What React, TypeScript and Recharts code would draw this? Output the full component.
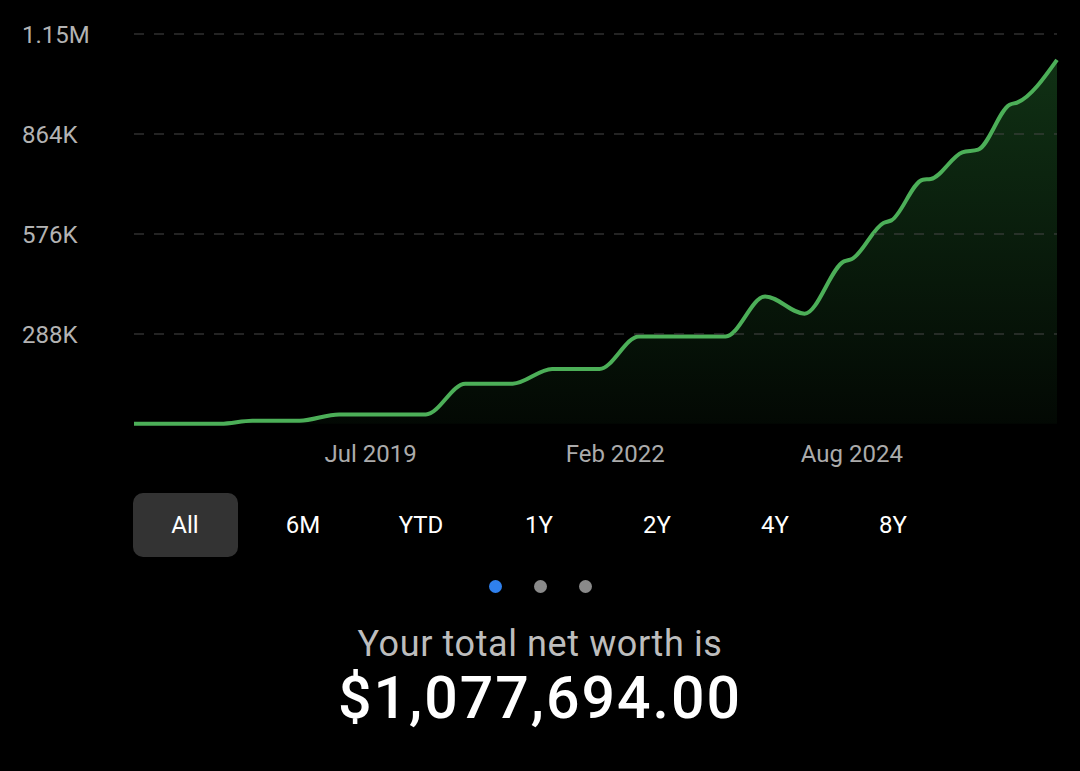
import React from 'react';
import { AreaChart, Area, XAxis, YAxis, ReferenceLine } from 'recharts';

// net worth samples (month, value)
const dates = [
  '2017-01', '2017-12', '2018-04', '2018-10', '2019-03', '2020-02', '2020-07',
  '2021-01', '2021-06', '2021-12', '2022-05', '2023-04', '2023-09', '2024-02',
  '2024-07', '2024-08', '2024-12', '2025-01', '2025-05', '2025-06', '2025-10',
  '2025-12', '2026-04', '2026-05', '2026-10',
];
const netWorth = [
  29700, 29700, 38300, 38300, 56400, 56400, 144900,
  144900, 187200, 187200, 281100, 281100, 396300, 346500,
  497100, 504000, 607700, 615200, 732400, 734400, 811000,
  818800, 948400, 955000, 1077694,
];

const yTicks = [288000, 576000, 864000, 1152000];
const xTickDates = ['2019-07', '2022-02', '2024-08'];
const xTickLabels = ['Jul 2019', 'Feb 2022', 'Aug 2024'];
const ranges = ['All', '6M', 'YTD', '1Y', '2Y', '4Y', '8Y'];
const totalLabel = '$1,077,694.00';

const FONT = 'Roboto, sans-serif';

const monthIndex = (s: string) => {
  const [y, m] = s.split('-').map(Number);
  return (y - 2017) * 12 + (m - 1);
};

const data = dates.map((d, i) => ({ t: monthIndex(d), value: netWorth[i] }));
const xTicks = xTickDates.map(monthIndex);

const formatY = (v: number) =>
  v >= 1000000 ? `${(v / 1000000).toFixed(2)}M` : `${Math.round(v / 1000)}K`;

const YTick = ({ y, payload }: any) => (
  <text x={22} y={y} dy={8.5} fill="#b3b3b3" fontSize={24} fontFamily={FONT}>
    {formatY(payload.value)}
  </text>
);

export default function App() {
  return (
    <div
      style={{
        position: 'absolute',
        left: 0,
        top: 0,
        width: 1080,
        height: 771,
        background: '#000',
        fontFamily: FONT,
        overflow: 'hidden',
      }}
    >
      <div style={{ position: 'absolute', left: 0, top: 0 }}>
        <AreaChart
          width={1080}
          height={480}
          data={data}
          margin={{ top: 34, right: 23, left: 0, bottom: 0 }}
        >
          <defs>
            <linearGradient id="nwFill" x1="0" y1="0" x2="0" y2="1">
              <stop offset="0%" stopColor="#2e8b3a" stopOpacity={0.35} />
              <stop offset="100%" stopColor="#2e8b3a" stopOpacity={0.06} />
            </linearGradient>
          </defs>
          <XAxis
            type="number"
            dataKey="t"
            domain={['dataMin', 'dataMax']}
            ticks={xTicks}
            interval={0}
            tickFormatter={(v: number) => xTickLabels[xTicks.indexOf(v)]}
            axisLine={false}
            tickLine={false}
            tickSize={0}
            tickMargin={11}
            height={46}
            tick={{ fill: '#ababab', fontSize: 24, fontFamily: FONT }}
          />
          <YAxis
            domain={[0, 1152000]}
            ticks={yTicks}
            interval={0}
            width={134}
            axisLine={false}
            tickLine={false}
            tick={<YTick />}
          />
          {yTicks.map((v) => (
            <ReferenceLine key={v} y={v} stroke="#474747" strokeDasharray="10 10" />
          ))}
          <Area
            type="monotone"
            dataKey="value"
            stroke="#4caf58"
            strokeWidth={4}
            fill="url(#nwFill)"
            fillOpacity={1}
            baseValue={Math.min(...netWorth)}
            dot={false}
            activeDot={false}
            isAnimationActive={false}
          />
        </AreaChart>
      </div>

      {/* range selector */}
      <div
        style={{
          position: 'absolute',
          left: 126,
          top: 493,
          height: 64,
          display: 'flex',
        }}
      >
        {ranges.map((r, i) => (
          <div
            key={r}
            style={{
              width: 118,
              height: 64,
              display: 'flex',
              alignItems: 'center',
              justifyContent: 'center',
            }}
          >
            <div
              style={{
                width: 105,
                height: 64,
                borderRadius: 10,
                background: i === 0 ? '#333333' : 'transparent',
                color: '#fff',
                fontSize: 24,
                display: 'flex',
                alignItems: 'center',
                justifyContent: 'center',
              }}
            >
              {r}
            </div>
          </div>
        ))}
      </div>

      {/* page dots */}
      <div
        style={{
          position: 'absolute',
          left: 0,
          width: 1080,
          top: 580,
          display: 'flex',
          justifyContent: 'center',
          gap: 32,
        }}
      >
        {[0, 1, 2].map((i) => (
          <div
            key={i}
            style={{
              width: 13,
              height: 13,
              borderRadius: '50%',
              background: i === 0 ? '#2f80ed' : '#8a8a8a',
            }}
          />
        ))}
      </div>

      <div
        style={{
          position: 'absolute',
          left: 0,
          width: 1080,
          top: 626,
          textAlign: 'center',
          fontSize: 36,
          lineHeight: '36px',
          letterSpacing: 0.6,
          color: '#bdbdbd',
        }}
      >
        Your total net worth is
      </div>
      <div
        style={{
          position: 'absolute',
          left: 0,
          width: 1080,
          top: 668,
          textAlign: 'center',
          fontSize: 59,
          lineHeight: '59px',
          fontWeight: 500,
          letterSpacing: 2,
          color: '#fff',
        }}
      >
        {totalLabel}
      </div>
    </div>
  );
}
